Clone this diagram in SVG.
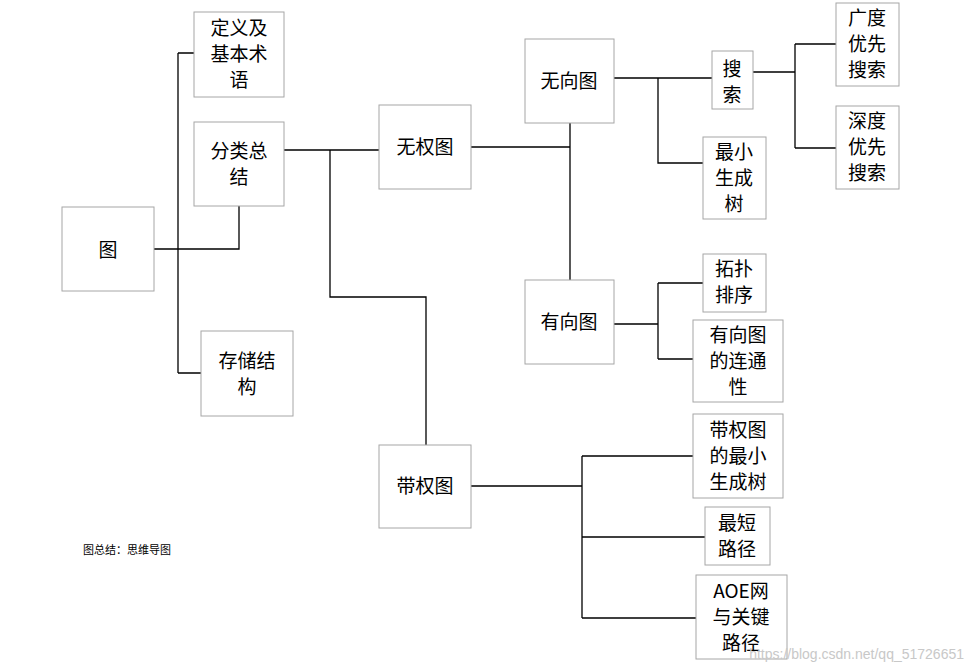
<svg xmlns="http://www.w3.org/2000/svg" width="969" height="668" viewBox="0 0 969 668">
<style>
rect{fill:#fff;stroke:#a6a6a6;stroke-width:1}
text{font-family:"Noto Sans CJK SC","Liberation Sans",sans-serif;font-size:19px;fill:#000;text-anchor:middle}
.c path{fill:none;stroke:#000;stroke-width:1.3}
</style>
<rect x="0" y="0" width="969" height="668" style="stroke:none"/>
<g class="c">
<path d="M154 249H178M178 53V373M178 53H194M178 373H201M178 249H239V206"/>
<path d="M284 150H379M330 150V297H426V445"/>
<path d="M471 147H570M570 123V280"/>
<path d="M614 78H712M658 78V163H703"/>
<path d="M753 72H795M795 44V148M795 44H836M795 148H836"/>
<path d="M614 324H658M658 283V359M658 283H703M658 359H693"/>
<path d="M471 486H582M582 456V618M582 456H693M582 537H705M582 618H696"/>
</g>
<g id="n-tu"><rect x="62" y="207" width="92" height="84"/><text x="108" y="257">图</text></g>
<g id="n-dingyi"><rect x="194" y="12" width="90" height="85"/><text x="239" y="35">定义及</text><text x="239" y="61">基本术</text><text x="239" y="87">语</text></g>
<g id="n-fenlei"><rect x="194" y="122" width="90" height="84"/><text x="239" y="158">分类总</text><text x="239" y="184">结</text></g>
<g id="n-cunchu"><rect x="201" y="331" width="92" height="85"/><text x="247" y="368">存储结</text><text x="247" y="394">构</text></g>
<g id="n-wuquan"><rect x="379" y="105" width="92" height="84"/><text x="425" y="154">无权图</text></g>
<g id="n-daiquan"><rect x="379" y="445" width="92" height="83"/><text x="425" y="493">带权图</text></g>
<g id="n-wuxiang"><rect x="525" y="39" width="89" height="84"/><text x="569" y="88">无向图</text></g>
<g id="n-youxiang"><rect x="525" y="280" width="89" height="84"/><text x="569" y="329">有向图</text></g>
<g id="n-sousuo"><rect x="712" y="51" width="41" height="58"/><text x="732" y="76">搜</text><text x="732" y="102">索</text></g>
<g id="n-zuixiao"><rect x="703" y="137" width="63" height="82"/><text x="734" y="159">最小</text><text x="734" y="185">生成</text><text x="734" y="211">树</text></g>
<g id="n-guangdu"><rect x="836" y="3" width="63" height="83"/><text x="867" y="25">广度</text><text x="867" y="51">优先</text><text x="867" y="77">搜索</text></g>
<g id="n-shendu"><rect x="836" y="106" width="63" height="83"/><text x="867" y="128">深度</text><text x="867" y="154">优先</text><text x="867" y="180">搜索</text></g>
<g id="n-tuopu"><rect x="703" y="254" width="63" height="58"/><text x="734" y="276">拓扑</text><text x="734" y="302">排序</text></g>
<g id="n-liantong"><rect x="693" y="320" width="90" height="82"/><text x="738" y="342">有向图</text><text x="738" y="368">的连通</text><text x="738" y="394">性</text></g>
<g id="n-dqzx"><rect x="693" y="414" width="90" height="84"/><text x="738" y="437">带权图</text><text x="738" y="463">的最小</text><text x="738" y="489">生成树</text></g>
<g id="n-zuiduan"><rect x="705" y="507" width="65" height="58"/><text x="737" y="530">最短</text><text x="737" y="556">路径</text></g>
<g id="n-aoe"><rect x="696" y="575" width="91" height="84"/><text x="741" y="598">AOE网</text><text x="741" y="624">与关键</text><text x="741" y="650">路径</text></g>
<text x="83" y="554" style="font-size:11px;text-anchor:start">图总结：思维导图</text>
<text x="964" y="659" style="font-size:14px;text-anchor:end;fill:#c8c8c8;font-family:'Liberation Sans',sans-serif">https://blog.csdn.net/qq_51726651</text>
</svg>
